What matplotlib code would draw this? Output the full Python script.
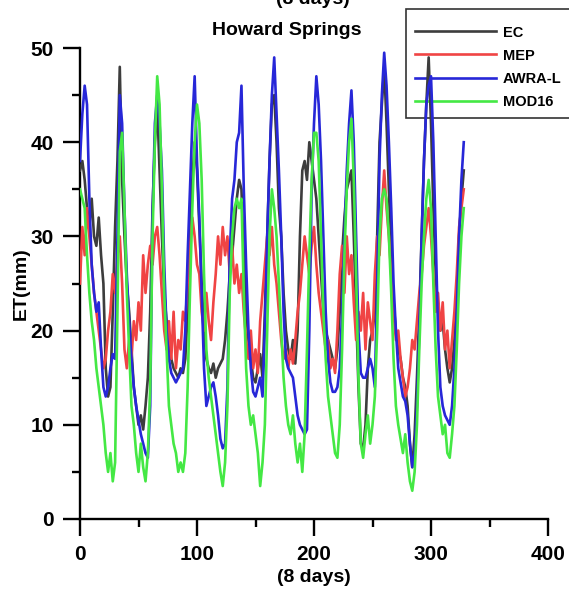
import numpy as np
import matplotlib
matplotlib.use("Agg")
import matplotlib.pyplot as plt
from matplotlib.patches import Rectangle
from matplotlib.ticker import MultipleLocator

plt.rcParams["font.family"] = ["Liberation Sans", "DejaVu Sans"]
plt.rcParams["font.weight"] = "bold"

# 8-day ET (mm), one value every second 8-day step
ec = [
    37, 38, 36, 33, 31, 34, 30, 29, 32, 28,
    25, 16, 13, 14, 22, 31, 38, 48, 36, 30,
    25, 22, 18, 14, 12, 10, 11, 9.5, 12, 15,
    22, 33, 40, 44, 37, 30, 24, 21, 19, 17,
    16, 15.5, 15, 16, 15.5, 17, 22, 30, 36, 40,
    37, 31, 25, 20, 17, 16, 15.5, 16.5, 15, 16,
    16.5, 17, 19, 22, 26, 28, 31, 34, 36, 35,
    28, 22, 19, 17, 15, 14.5, 16, 17.5, 15, 22,
    30, 38, 44, 45, 40, 33, 30, 24, 20, 18,
    17, 19, 16.5, 20, 30, 37, 38, 36, 40, 38,
    36, 34, 30, 26, 22, 20, 19, 18, 17, 16,
    18, 22, 28, 32, 35, 36, 37, 30, 22, 14,
    8, 7.5, 10, 16, 19, 20, 22, 30, 40, 44,
    48, 42, 35, 28, 23, 20, 18, 17, 15, 14,
    12, 8, 5.5, 9, 15, 22, 30, 38, 44, 49,
    42, 33, 26, 22, 20, 21, 18, 16, 14.5, 16,
    19, 24, 30, 34, 37,
]
mep = [
    25, 31, 28, 33, 30, 27, 24, 22, 20, 18,
    16, 17, 20, 22, 26, 24, 28, 30, 25, 18,
    16, 19, 17, 21, 19, 23, 20, 28, 24, 27,
    29, 27, 30, 31, 28, 24, 20, 18, 21, 17,
    22, 16, 19, 18, 22, 21, 25, 29, 32, 30,
    27, 26, 22, 20, 24, 21, 19, 23, 26, 30,
    27, 31, 28, 30, 26, 29, 25, 27, 24, 26,
    22, 19, 17, 20, 16, 18, 15.5, 21, 24, 27,
    30, 28, 31, 27, 25, 22, 19, 17, 18, 16,
    18, 16.5, 19, 22, 24, 27, 30, 28, 26, 29,
    31, 27, 24, 22, 20, 18, 19, 16, 17, 15.5,
    20, 26, 29, 24, 30, 26, 28, 23, 19, 22,
    20, 24, 18, 23, 21, 19, 26, 30, 28, 33,
    37, 33, 30, 26, 22, 19, 20, 17, 15, 13,
    14, 16, 19, 18, 21, 24, 26, 29, 31, 33,
    30, 26, 22, 24, 20, 23, 18, 20, 16, 19,
    22, 26, 31, 33, 35,
]
awra = [
    38, 43, 46, 44, 34, 27, 24, 22, 23, 18,
    14, 13, 14, 16, 17.5, 17, 30, 45, 42, 33,
    26, 21, 17, 14, 12, 10.5, 9, 8, 7, 6.5,
    12, 32, 42, 45, 42, 37, 27, 20, 17, 15.5,
    15, 14.5, 15, 15.5, 16, 20, 28, 35, 42, 47,
    38, 32, 24, 16, 12, 13, 14, 14.5, 13, 11,
    8.5, 7.5, 8, 14, 28, 34, 36, 40, 41, 46,
    35, 27, 20, 16, 13.5, 13, 14, 15, 13, 20,
    30, 38, 45, 49, 43, 37, 30, 22, 17, 16,
    15.5, 15, 13, 11, 10, 9.5, 9, 9.5, 20, 35,
    42, 47, 44, 38, 30, 22, 17, 14.5, 13.5, 13.5,
    14, 16, 22, 30, 37, 42, 45.5, 40, 30, 20,
    15.5, 15, 15, 16, 17, 16, 14, 25, 38, 45,
    49.5, 46, 40, 33, 25, 20, 16, 14.5, 13, 12.5,
    11, 8, 5.5, 7, 12, 20, 30, 38, 44, 46,
    47, 40, 30, 20, 14, 12, 11, 10.5, 10, 12,
    16, 22, 30, 36, 40,
]
mod16 = [
    35, 34, 33, 28, 24, 21, 19, 16, 14, 12,
    10, 7, 5, 7, 4, 6, 22, 39, 41, 33,
    24, 18, 12, 10, 7, 5, 8, 5.5, 4, 7,
    14, 30, 40, 47, 44, 35, 24, 18, 12, 10,
    8, 7, 5, 6, 5, 7, 14, 24, 33, 40,
    44, 42, 36, 26, 18, 15, 13, 11, 9, 7,
    5, 3.5, 6, 12, 24, 30, 33, 34, 33, 34,
    24, 16, 12, 10, 11, 9, 7, 3.5, 6, 10,
    20, 30, 35, 33, 30, 25, 20, 15, 12, 10,
    9, 11, 8, 6, 8, 5, 9, 18, 28, 36,
    41, 41, 38, 30, 22, 17, 13, 11, 9, 7,
    6.5, 10, 18, 28, 35, 40, 42.5, 36, 26, 15,
    8, 6.5, 9, 11, 8, 10, 13, 20, 30, 34,
    35, 34, 30, 24, 17, 12, 10, 8.5, 7, 9,
    6, 4, 3, 5, 10, 18, 25, 30, 34, 36,
    33, 25, 18, 13, 11, 9, 10, 7, 6.5, 9,
    12, 18, 25, 30, 33,
]

series = [("EC", ec, "#3d3d3d"), ("MEP", mep, "#f04444"),
          ("AWRA-L", awra, "#2727d8"), ("MOD16", mod16, "#44e844")]

fig = plt.figure(figsize=(5.69, 5.90), dpi=100)
ax = fig.add_axes([80 / 569, 1 - 519 / 590, 468 / 569, 471 / 590])

for name, vals, col in series:
    t = np.arange(len(vals)) * 2
    ax.plot(t, vals, color=col, lw=1.9, label=name, zorder=3)

ax.set_xlim(0, 400)
ax.set_ylim(0, 50)
ax.xaxis.set_major_locator(MultipleLocator(100))
ax.xaxis.set_minor_locator(MultipleLocator(50))
ax.yaxis.set_major_locator(MultipleLocator(10))
ax.yaxis.set_minor_locator(MultipleLocator(5))
for side in ["top", "right"]:
    ax.spines[side].set_visible(False)
for side in ["left", "bottom"]:
    ax.spines[side].set_linewidth(1.7)
ax.tick_params(which="major", direction="out", length=12, width=1.7,
               labelsize=15)
ax.tick_params(axis="x", which="major", pad=7)
ax.tick_params(axis="y", which="major", pad=7)
ax.tick_params(which="minor", direction="out", length=6, width=1.7)
for lab in ax.get_xticklabels() + ax.get_yticklabels():
    lab.set_fontweight("bold")

ax.set_ylabel("ET(mm)", fontsize=14, fontweight="bold", labelpad=0.5)
ax.set_xlabel("(8 days)", fontsize=14, fontweight="bold", labelpad=3)

fig.text(287 / 569, 1 - 35 / 590, "Howard Springs", ha="center",
         va="baseline", fontsize=14, fontweight="bold")
fig.text(313 / 569, 1 - 4 / 590, "(8 days)", ha="center",
         va="baseline", fontsize=14, fontweight="bold")

# legend box runs past the right edge of the figure, drawn under the data
box = Rectangle((406 / 569, 1 - 118 / 590), 200 / 569, 109 / 590,
                transform=fig.transFigure, facecolor="white",
                edgecolor="#333333", lw=1.2, clip_on=False, zorder=1)
ax.add_patch(box)
leg = ax.legend(loc="upper left", bbox_to_anchor=(408 / 569, 1 - 19 / 590),
                bbox_transform=fig.transFigure, frameon=False, fontsize=10.5,
                handlelength=5.6, handletextpad=0.45, labelspacing=0.62,
                borderpad=0.45, borderaxespad=0)
leg.set_zorder(2)
for txt in leg.get_texts():
    txt.set_fontweight("bold")

fig.savefig("out.png", dpi=100)
